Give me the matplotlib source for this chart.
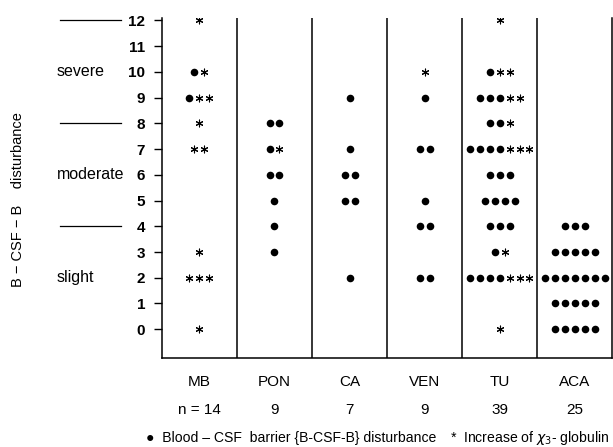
import numpy as np
import matplotlib.pyplot as plt
from matplotlib.transforms import blended_transform_factory

plt.rcParams['font.family'] = ['Liberation Sans', 'DejaVu Sans']

categories = ['MB', 'PON', 'CA', 'VEN', 'TU', 'ACA']
n_labels = ['n = 14', '9', '7', '9', '39', '25']
levels = list(range(13))

# counts per level 0..12
dots = {
    'MB':  [0, 0, 0, 0, 0, 0, 0, 0, 0, 1, 1, 0, 0],
    'PON': [0, 0, 0, 1, 1, 1, 2, 1, 2, 0, 0, 0, 0],
    'CA':  [0, 0, 1, 0, 0, 2, 2, 1, 0, 1, 0, 0, 0],
    'VEN': [0, 0, 2, 0, 2, 1, 0, 2, 0, 1, 0, 0, 0],
    'TU':  [0, 0, 4, 1, 3, 4, 3, 4, 2, 3, 1, 0, 0],
    'ACA': [5, 5, 7, 5, 3, 0, 0, 0, 0, 0, 0, 0, 0],
}
stars = {
    'MB':  [1, 0, 3, 1, 0, 0, 0, 2, 1, 2, 1, 0, 1],
    'PON': [0, 0, 0, 0, 0, 0, 0, 1, 0, 0, 0, 0, 0],
    'CA':  [0, 0, 0, 0, 0, 0, 0, 0, 0, 0, 0, 0, 0],
    'VEN': [0, 0, 0, 0, 0, 0, 0, 0, 0, 0, 1, 0, 0],
    'TU':  [1, 0, 3, 1, 0, 0, 0, 3, 1, 2, 2, 0, 1],
    'ACA': [0, 0, 0, 0, 0, 0, 0, 0, 0, 0, 0, 0, 0],
}
grades = ['severe', 'moderate', 'slight']
grade_levels = [10, 6, 2]
grade_bounds = [12, 8, 4]

fig = plt.figure(figsize=(6.13, 4.47), dpi=100)
ax = fig.add_axes([0.264, 0.199, 0.735, 0.761])

step = 0.132
for i, cat in enumerate(categories):
    for lv in levels:
        nd, ns = dots[cat][lv], stars[cat][lv]
        tot = nd + ns
        if tot == 0:
            continue
        xs = i + 0.5 + (np.arange(tot) - (tot - 1) / 2) * step
        if nd:
            ax.scatter(xs[:nd], [lv] * nd, s=30, color='black', marker='o', linewidths=0)
        if ns:
            ax.scatter(xs[nd:], [lv] * ns, s=24, color='black', marker=(6, 2, 0), linewidths=0.8)

for i in range(1, len(categories)):
    ax.axvline(i, color='black', linewidth=1.1)

ax.set_xlim(0, len(categories))
ax.set_ylim(-1.12, 12.1)
ax.spines['top'].set_visible(False)
for s in ['left', 'bottom', 'right']:
    ax.spines[s].set_linewidth(1.1)

ax.set_yticks(levels)
ax.set_yticklabels([str(v) for v in levels], fontweight='bold', fontsize=11)
ax.tick_params(axis='y', direction='out', length=6, width=1, pad=6)
ax.set_xticks(np.arange(len(categories)) + 0.5)
ax.set_xticklabels(categories, fontsize=11)
ax.tick_params(axis='x', length=0, pad=12)

tr = blended_transform_factory(ax.transAxes, ax.transData)
for g, y in zip(grades, grade_levels):
    ax.text(-0.233, y, g, transform=tr, ha='left', va='center', fontsize=11.5)
for y in grade_bounds:
    ax.plot([-0.227, -0.09], [y, y], transform=tr, color='black', linewidth=0.9, clip_on=False)

trx = blended_transform_factory(ax.transData, fig.transFigure)
for i, lab in enumerate(n_labels):
    ax.text(i + 0.5, 1 - 410 / 447, lab, transform=trx, ha='center', va='center', fontsize=11)

fig.text(18 / 613, 1 - 200 / 447, 'B \u2212 CSF \u2212 B    disturbance', rotation=90,
         ha='center', va='center', fontsize=10.5)

ly = 1 - 438 / 447
fig.text(146 / 613, ly, '\u25cf  Blood \u2013 CSF  barrier {B-CSF-B} disturbance', ha='left', va='center', fontsize=10.1)
fig.text(450 / 613, ly, '*  Increase of $\\chi_3$- globulin', ha='left', va='center', fontsize=10.1)

fig.savefig('out.png', dpi=100)
